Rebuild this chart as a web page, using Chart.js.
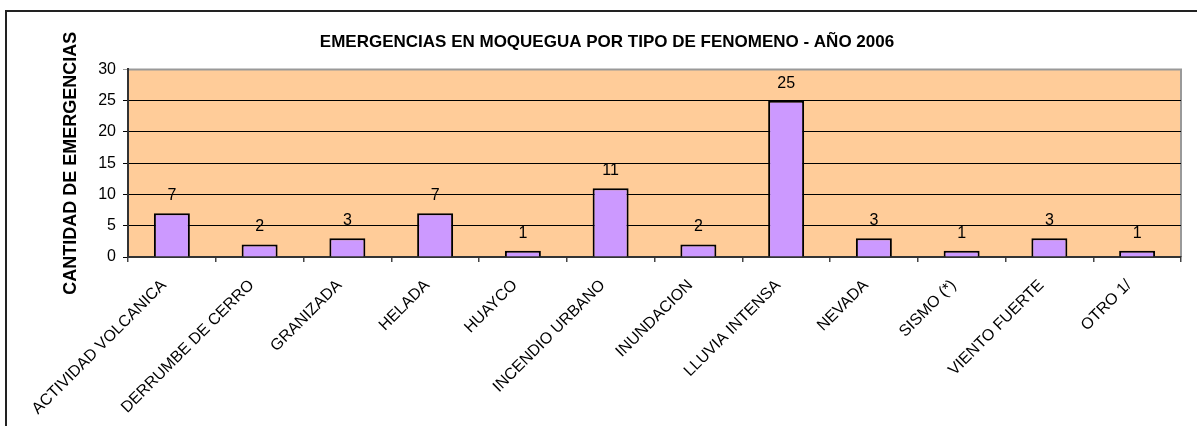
<!DOCTYPE html>
<html>
<head>
<meta charset="utf-8">
<script src="https://cdn.jsdelivr.net/npm/chart.js@4.4.0/dist/chart.umd.min.js"></script>
<style>
  html, body { margin: 0; padding: 0; background: #fff; }
  #wrap { width: 1197px; height: 426px; position: relative; }
</style>
</head>
<body>
<div id="wrap"><canvas id="myChart"></canvas></div>
<script>
const categories = ["ACTIVIDAD VOLCANICA", "DERRUMBE DE CERRO", "GRANIZADA", "HELADA", "HUAYCO",
  "INCENDIO URBANO", "INUNDACION", "LLUVIA INTENSA", "NEVADA", "SISMO (*)", "VIENTO FUERTE", "OTRO 1/"];
const emergencias = [7, 2, 3, 7, 1, 11, 2, 25, 3, 1, 3, 1];
const yTicks = [0, 5, 10, 15, 20, 25, 30];

const font = "Arial, 'Liberation Sans', sans-serif";

// plot background, frame and value labels like the old Excel chart
const excelLook = {
  id: "excelLook",
  beforeDraw(chart) {
    const { ctx, chartArea: a } = chart;
    ctx.save();
    ctx.strokeStyle = "#222";
    ctx.lineWidth = 2;
    ctx.strokeRect(6, 11, 1300, 500);
    ctx.fillStyle = "#FFCC99";
    ctx.fillRect(a.left, a.top, a.right - a.left, a.bottom - a.top);
    ctx.strokeStyle = "#999";
    ctx.lineWidth = 2;
    ctx.beginPath();
    ctx.moveTo(a.left, a.top);
    ctx.lineTo(a.right, a.top);
    ctx.lineTo(a.right, a.bottom);
    ctx.stroke();
    ctx.restore();
  },
  afterDatasetsDraw(chart) {
    const { ctx } = chart;
    const meta = chart.getDatasetMeta(0);
    ctx.save();
    ctx.fillStyle = "#000";
    ctx.font = "16px " + font;
    ctx.textAlign = "center";
    ctx.textBaseline = "alphabetic";
    meta.data.forEach((bar, i) => {
      ctx.fillText(String(emergencias[i]), bar.x, bar.y - 13);
    });
    ctx.restore();
  }
};

new Chart(document.getElementById("myChart"), {
  type: "bar",
  data: {
    labels: categories,
    datasets: [{
      data: emergencias,
      backgroundColor: "#CC99FF",
      borderColor: "#000",
      borderWidth: 2,
      barPercentage: 0.41,
      categoryPercentage: 1
    }]
  },
  options: {
    responsive: true,
    maintainAspectRatio: false,
    animation: false,
    layout: { padding: { top: 11, left: 33, right: 16, bottom: 0 } },
    plugins: {
      legend: { display: false },
      tooltip: { enabled: false },
      title: {
        display: true,
        text: "EMERGENCIAS EN MOQUEGUA POR TIPO DE FENOMENO - AÑO 2006",
        color: "#000",
        font: { family: font, size: 17, weight: "bold" },
        padding: { top: 21, bottom: 17 }
      }
    },
    scales: {
      x: {
        grid: { display: true, drawOnChartArea: false, offset: true, color: "#444", tickLength: 5, lineWidth: 1.5 },
        border: { color: "#333", width: 2 },
        ticks: {
          color: "#000",
          font: { family: font, size: 16 },
          minRotation: 45,
          maxRotation: 45,
          autoSkip: false,
          padding: 14,
          labelOffset: -8
        },
        afterFit(scale) { scale.height = 169; }
      },
      y: {
        min: 0,
        max: 30,
        afterBuildTicks(scale) { scale.ticks = yTicks.map(v => ({ value: v })); },
        grid: {
          color: ctx => (ctx.tick && ctx.tick.value === 30 ? "#999" : "#000"),
          tickLength: 5
        },
        border: { color: "#333", width: 2 },
        ticks: { color: "#000", font: { family: font, size: 16 }, padding: 7 },
        title: {
          display: true,
          text: "CANTIDAD DE EMERGENCIAS",
          color: "#000",
          font: { family: font, size: 18, weight: "bold" },
          padding: { top: 27, bottom: 0 }
        },
        afterFit(scale) { scale.width = 95; }
      }
    }
  },
  plugins: [excelLook]
});
</script>
</body>
</html>
